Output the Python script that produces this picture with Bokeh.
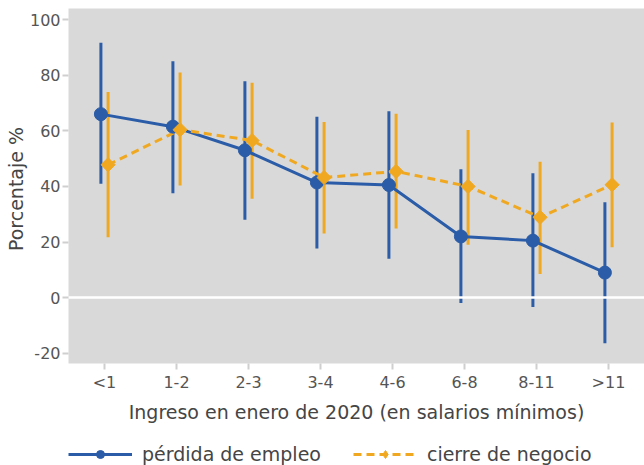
from bokeh.plotting import figure
from bokeh.models import (FactorRange, Range1d, FixedTicker, Span, Legend, LegendItem,
                          ColumnDataSource)
from bokeh.layouts import column
from bokeh.transform import dodge
from bokeh.embed import file_html
from bokeh.resources import INLINE
import numpy as np

categories = ["<1", "1-2", "2-3", "3-4", "4-6", "6-8", "8-11", ">11"]

empleo_val = [66.0, 61.5, 53.0, 41.4, 40.5, 22.0, 20.5, 9.0]
empleo_lo = [41.0, 37.5, 28.0, 17.7, 14.0, -1.9, -3.4, -16.4]
empleo_hi = [91.7, 85.0, 77.8, 65.1, 67.0, 46.2, 44.7, 34.3]

negocio_val = [47.8, 60.4, 56.5, 43.2, 45.4, 40.0, 28.9, 40.6]
negocio_lo = [21.7, 40.3, 35.6, 23.1, 24.9, 19.0, 8.5, 18.1]
negocio_hi = [74.0, 81.0, 77.3, 63.2, 66.1, 60.3, 48.9, 63.0]

y_ticks = [-20, 0, 20, 40, 60, 80, 100]
y_tick_labels = {t: str(t) for t in y_ticks}

series_names = ["pérdida de empleo", "cierre de negocio"]

BLUE = "#2a5ca8"
ORANGE = "#f0a821"
TEXT = "#555555"
TITLE = "#454545"
TICK = "#cfcfcf"
FONT = "DejaVu Sans"

src_e = ColumnDataSource(dict(cat=categories, v=empleo_val, lo=empleo_lo, hi=empleo_hi))
src_n = ColumnDataSource(dict(cat=categories, v=negocio_val, lo=negocio_lo, hi=negocio_hi))

x_range = FactorRange(*categories, range_padding=0)

p = figure(x_range=x_range,
           y_range=Range1d(-23.7, 104),
           frame_width=576, frame_height=355,
           output_backend="svg", toolbar_location=None,
           min_border_left=68, min_border_right=0, min_border_top=8, min_border_bottom=62)

p.background_fill_color = "#d9d9d9"
p.border_fill_color = "white"
p.outline_line_color = None
p.xgrid.visible = False
p.ygrid.visible = False

p.add_layout(Span(location=0, dimension="width", line_color="white", line_width=2.5))

dx = 0.05
xe = dodge("cat", -dx, range=x_range)
xn = dodge("cat", dx, range=x_range)


def draw_series(fig, with_bars, legend_only=False):
    if with_bars:
        fig.segment(x0=xe, y0="lo", x1=xe, y1="hi", source=src_e, line_color=BLUE, line_width=3)
        fig.segment(x0=xn, y0="lo", x1=xn, y1="hi", source=src_n, line_color=ORANGE, line_width=3)
    le = fig.line(x=xe, y="v", source=src_e, line_color=BLUE, line_width=3)
    ln = fig.line(x=xn, y="v", source=src_n, line_color=ORANGE, line_width=3, line_dash="8 5")
    me = fig.scatter(x=xe, y="v", source=src_e, marker="circle", size=13,
                     fill_color=BLUE, line_color=BLUE)
    if legend_only:
        mn = fig.scatter(x=xn, y="v", source=src_n, marker="diamond", size=15,
                         fill_color=ORANGE, line_color=ORANGE)
    else:
        mn = fig.scatter(x=xn, y="v", source=src_n, marker="square", angle=np.pi / 4, size=10,
                         fill_color=ORANGE, line_color=ORANGE)
    return le, me, ln, mn


draw_series(p, True)

# axes
p.yaxis.ticker = FixedTicker(ticks=y_ticks)
p.yaxis.major_label_overrides = y_tick_labels
for ax in (p.xaxis[0], p.yaxis[0]):
    ax.axis_line_color = None
    ax.major_tick_line_color = TICK
    ax.major_tick_line_width = 2
    ax.major_tick_out = 6
    ax.major_tick_in = 0
    ax.minor_tick_line_color = None
    ax.major_label_text_color = TEXT
    ax.major_label_text_font = FONT
    ax.major_label_text_font_size = "16px"
    ax.axis_label_text_color = TITLE
    ax.axis_label_text_font = FONT
    ax.axis_label_text_font_style = "normal"
    ax.axis_label_text_font_size = "19px"

p.yaxis.axis_label = "Porcentaje  %"
p.yaxis.major_label_standoff = 2
p.yaxis.axis_label_standoff = 0
p.xaxis.axis_label = "Ingreso en enero de 2020 (en salarios mínimos)"
p.xaxis.major_label_standoff = 3
p.xaxis.axis_label_standoff = 6

# legend strip below the chart (series drawn out of view; only the legend shows)
lg = figure(x_range=x_range, y_range=Range1d(1000, 1001),
            width=644, height=40, output_backend="svg", toolbar_location=None,
            x_axis_type=None, y_axis_type=None,
            min_border_left=0, min_border_right=0, min_border_top=0, min_border_bottom=0)
lg.outline_line_color = None
lg.xgrid.visible = False
lg.ygrid.visible = False
l1, m1, l2, m2 = draw_series(lg, False, legend_only=True)

legend = Legend(items=[LegendItem(label=series_names[0], renderers=[l1, m1], index=0),
                       LegendItem(label=series_names[1], renderers=[l2, m2], index=0)],
                orientation="horizontal", location=(0, 0),
                glyph_width=64, glyph_height=20, label_height=20,
                label_standoff=10, spacing=32,
                padding=0, margin=0,
                label_text_font=FONT, label_text_font_size="19px",
                label_text_color=TITLE,
                background_fill_alpha=0, border_line_color=None)
lg.add_layout(legend, "center")

layout = column(p, lg, spacing=0)

open("out.html", "w").write(file_html(layout, INLINE))
